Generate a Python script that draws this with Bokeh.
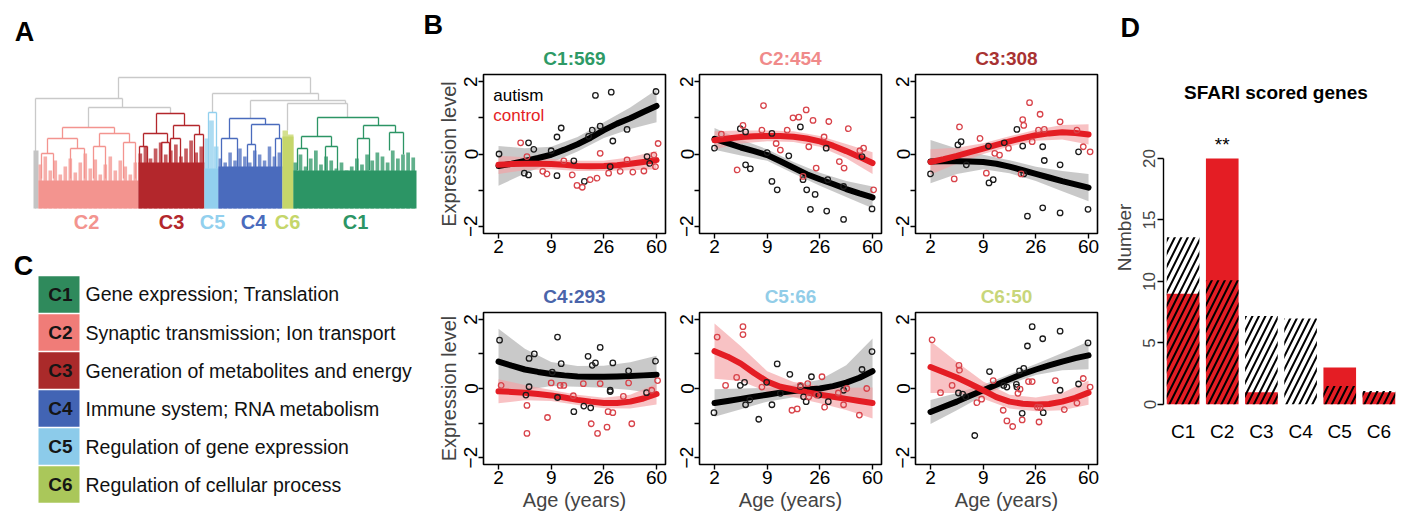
from bokeh.plotting import figure
from bokeh.layouts import row, column
from bokeh.models import Range1d, FactorRange, FixedTicker, Title
from bokeh.embed import file_html
from bokeh.resources import INLINE
from bokeh.core.properties import value

FONT = "Liberation Sans"

# ---------------------------------------------------------------- data
# Panel A : dendrogram (x = leaf position, h = merge height)
dendro_clusters = ["C2", "C3", "C5", "C4", "C6", "C1"]
dendro_span_start = [5, 105, 171, 185, 249, 260]
dendro_span_end = [105, 171, 185, 249, 260, 383]
dendro_label_x = [53, 138, 179, 220, 254, 322]
dendro_solid = [28, 46, 40, 42, 72, 38]
dendro_profiles = {
    "C2": [44, 52, 38, 48, 34, 42, 50, 36, 46, 55, 40, 49, 34, 44, 52, 38, 48, 42, 34, 46],
    "C3": [55, 62, 50, 60, 66, 54, 58, 64, 52, 60, 68, 56, 62],
    "C5": [70, 88, 62],
    "C4": [50, 46, 56, 48, 60, 52, 46, 58, 54, 48, 62, 52, 56],
    "C6": [78, 74],
    "C1": [46, 54, 42, 50, 58, 44, 52, 48, 40, 46, 38, 42, 50, 44, 54, 48, 56, 52, 46, 58, 50, 54, 56, 51],
}
# upper (unassigned) merges: (x_left, x_right, height, h_left_child, h_right_child)
upper_merges = [(85, 277, 131, 110, 115), (2, 89, 110, 0, 101), (55, 137, 101, 81, 95),
                (179, 285, 115, 96, 108), (217, 312, 108, 90, 105), (254, 314, 105, 78, 91)]
cluster_merges = {
    "C2": [(29, 81, 81, 70, 75), (14, 44, 70, 55, 60), (66, 96, 75, 62, 66), (8, 20, 55, 30, 30),
           (37, 51, 60, 30, 30), (60, 72, 62, 30, 30), (90, 102, 66, 30, 30)],
    "C3": [(123, 151, 95, 75, 83), (110, 134, 75, 62, 66), (140, 166, 83, 70, 74), (106, 114, 62, 45, 45),
           (128, 136, 66, 45, 45), (137, 147, 70, 45, 45), (161, 170, 74, 45, 45)],
    "C5": [(175, 183, 96, 40, 40)],
    "C4": [(196, 232, 90, 70, 84), (188, 204, 70, 40, 40), (218, 246, 84, 64, 70), (214, 222, 64, 40, 40),
           (242, 248, 70, 40, 40)],
    "C1": [(284, 345, 91, 72, 83), (268, 298, 72, 60, 62), (330, 362, 83, 70, 76), (264, 274, 60, 38, 38),
           (292, 304, 62, 38, 38), (324, 336, 70, 38, 38), (356, 370, 76, 58, 54)],
}
grey_leaf_span = (0, 5)
grey_leaf_height = 58

# cluster colours
ccol = {"C1": "#2c9565", "C2": "#f3948f", "C3": "#b3272c", "C4": "#4a6bbd", "C5": "#92d0ee", "C6": "#c5d66a"}
title_col = {"C1": "#2e9a66", "C2": "#f08a8a", "C3": "#a83232", "C4": "#4a64aa", "C5": "#92cde8", "C6": "#c8d67a"}

# Panel C : functional annotation
go_clusters = ["C1", "C2", "C3", "C4", "C5", "C6"]
go_terms = ["Gene expression; Translation", "Synaptic transmission; Ion transport",
            "Generation of metabolites and energy", "Immune system; RNA metabolism",
            "Regulation of gene expression", "Regulation of cellular process"]
go_box_colors = ["#2f8a5c", "#f07c78", "#aa2a2a", "#4264b4", "#8ccbea", "#aac75a"]

# Panel B : expression trajectories (x = ordered age position, ticks 2/9/26/60 years)
age_tick_pos = [0, 10, 20, 30]
age_tick_lab = ["2", "9", "26", "60"]
module_titles = ["C1:569", "C2:454", "C3:308", "C4:293", "C5:66", "C6:50"]

aut_x = {
    "C1": [0.1, 5.7, 6.7, 4.9, 5.7, 10.0, 11.1, 11.9, 11.1, 14.3, 16.3, 17.1, 17.8, 19.3, 18.4, 21.4, 21.7, 21.2, 24.4, 28.2, 28.7, 29.9],
    "C2": [0.0, 4.9, 5.9, 5.9, 6.8, 10.0, 10.9, 10.9, 11.9, 14.1, 16.3, 16.8, 17.5, 18.2, 19.1, 21.2, 21.5, 21.3, 24.5, 24.5, 28.0, 29.9],
    "C3": [0.0, 5.2, 5.8, 6.8, 11.0, 11.1, 11.9, 14.0, 16.4, 17.5, 17.7, 18.4, 21.3, 21.6, 21.3, 24.6, 24.6, 28.1, 29.9],
    "C4": [0.2, 5.8, 6.8, 5.8, 5.2, 11.2, 11.9, 10.2, 11.2, 14.3, 16.2, 17.0, 17.8, 18.4, 19.3, 17.5, 21.2, 21.2, 21.7, 24.7, 28.1, 29.8],
    "C5": [-0.1, 4.9, 5.7, 5.9, 6.7, 8.4, 9.9, 10.9, 11.9, 12.5, 14.3, 16.3, 16.9, 17.4, 18.4, 19.8, 21.6, 24.5, 28.0, 29.9],
    "C6": [5.3, 6.1, 6.7, 8.4, 11.2, 13.9, 14.5, 16.3, 16.4, 16.9, 17.7, 17.4, 18.4, 19.3, 21.3, 21.4, 24.6, 24.6, 28.1, 29.9],
}
aut_y = {
    "C1": [0.0, 0.31, 0.13, -0.53, -0.58, 0.09, 0.47, 0.72, -0.6, -0.19, -0.76, 0.49, 0.66, 0.77, 1.62, 1.71, 0.36, -0.35, 0.68, -0.07, -0.26, 1.73],
    "C2": [0.16, 0.7, 0.61, -0.3, -0.41, 0.04, 0.57, -0.76, -0.99, -0.05, 0.75, -0.71, -0.99, -1.53, -1.12, 0.16, -0.71, -1.58, -0.9, -1.81, -0.07, -1.52],
    "C3": [-0.55, 0.25, 0.34, -0.3, 0.22, -0.8, -0.71, 0.31, 0.68, 0.22, -0.55, -1.72, 0.2, -0.18, -1.49, -0.3, -1.63, 0.06, -1.53],
    "C4": [1.4, 0.87, 1.0, 0.05, -0.19, 1.49, 0.72, 0.47, -0.26, -0.67, -0.51, 0.93, 0.67, 0.74, 1.19, -0.56, -0.05, -0.09, 0.74, 0.51, -0.12, 0.79],
    "C5": [-0.7, 0.09, 0.18, -0.47, -0.33, -0.89, 0.18, -0.47, 0.71, -0.14, 0.41, 0.06, -0.24, -0.38, 0.34, -0.19, -0.38, -0.05, 0.55, 1.07],
    "C6": [-0.13, -0.16, -0.24, -1.36, 0.49, 0.09, 0.04, 0.12, 0.04, 0.51, 0.58, -0.72, 1.23, 1.79, 1.44, -0.7, 1.66, -0.05, 0.13, 1.32],
}
ctl_x = {
    "C1": [4.2, 5.4, 8.4, 9.2, 12.4, 14.0, 14.9, 15.9, 17.4, 18.7, 19.3, 20.9, 23.1, 24.4, 25.5, 27.6, 29.5, 30.3, 29.8],
    "C2": [1.3, 4.3, 5.4, 9.0, 9.3, 11.7, 12.5, 13.8, 14.9, 16.0, 17.4, 17.9, 18.7, 19.3, 21.7, 20.8, 23.7, 24.6, 25.4, 27.6, 28.3, 30.2, 16.8],
    "C3": [4.5, 5.5, 9.4, 10.6, 12.2, 13.1, 14.8, 17.2, 17.5, 17.7, 18.8, 19.3, 20.5, 20.8, 21.6, 24.6, 27.8, 29.0, 30.3],
    "C4": [0.5, 5.4, 5.4, 9.3, 10.0, 11.7, 12.4, 14.2, 16.1, 17.6, 18.8, 19.3, 20.6, 20.8, 21.7, 23.7, 24.7, 25.3, 29.1, 30.2],
    "C5": [0.5, 2.1, 4.2, 5.4, 5.4, 9.0, 14.7, 15.7, 16.3, 17.7, 17.9, 19.4, 20.4, 20.9, 23.5, 24.5, 25.1, 27.5, 28.9],
    "C6": [0.3, 1.9, 4.1, 5.4, 5.5, 8.8, 9.7, 11.9, 13.8, 14.5, 15.6, 16.6, 17.0, 17.4, 18.6, 19.3, 20.3, 20.6, 20.8, 23.7, 25.4, 27.8, 29.0, 30.3],
}
ctl_y = {
    "C1": [0.31, -0.07, -0.48, -0.55, -0.19, -0.58, -0.87, -0.92, -0.71, -0.67, 0.02, -0.53, -0.48, -0.16, -0.5, -0.47, -0.03, 0.29, -0.35],
    "C2": [0.55, -0.44, 0.79, 0.66, 1.34, 0.29, 0.11, 0.66, 1.0, 1.02, 1.22, 0.2, 0.93, -0.39, 0.9, 0.47, -0.21, -0.39, 0.7, 0.09, 0.16, -0.99, -0.62],
    "C3": [-0.69, 0.75, 0.43, -0.53, 0.02, -0.03, 0.16, -0.55, 0.95, 0.79, 1.42, 0.34, 0.66, 1.1, 0.68, 0.89, 0.66, 0.2, 0.06],
    "C4": [0.09, -0.49, -1.3, -0.84, 0.16, 0.09, 0.09, -0.21, 0.14, -1.02, -1.3, 0.14, -1.12, -0.67, -0.7, -0.23, 0.16, -1.02, -0.05, 0.23],
    "C5": [1.49, 0.09, 0.32, 1.79, 1.56, 0.04, -0.63, -0.59, 0.09, 0.14, -0.24, -0.19, 0.34, -0.54, -0.13, -0.47, 0.0, -0.77, 0.0],
    "C6": [1.41, -0.12, 0.09, 0.67, 0.53, -0.41, -0.31, 0.23, -0.63, -0.94, -1.1, -0.14, -0.02, -0.91, 0.2, 0.2, -0.54, -0.97, -0.55, 0.23, -0.61, -0.42, 0.29, 0.04],
}
# smoothed trends (read every 2.5 positions)
fit_x = [0, 2.5, 5, 7.5, 10, 12.5, 15, 17.5, 20, 22.5, 25, 27.5, 30]
aut_fit = {
    "C1": [-0.33, -0.27, -0.19, -0.11, -0.02, 0.12, 0.27, 0.45, 0.66, 0.84, 0.99, 1.16, 1.33],
    "C2": [0.42, 0.3, 0.18, 0.08, -0.03, -0.2, -0.38, -0.56, -0.7, -0.83, -0.97, -1.09, -1.2],
    "C3": [-0.21, -0.2, -0.2, -0.21, -0.22, -0.27, -0.35, -0.45, -0.55, -0.65, -0.75, -0.84, -0.93],
    "C4": [0.78, 0.66, 0.55, 0.48, 0.42, 0.38, 0.35, 0.34, 0.34, 0.35, 0.36, 0.38, 0.4],
    "C5": [-0.42, -0.36, -0.3, -0.24, -0.18, -0.12, -0.07, -0.03, 0.0, 0.07, 0.17, 0.31, 0.5],
    "C6": [-0.68, -0.53, -0.38, -0.21, -0.05, 0.11, 0.27, 0.42, 0.55, 0.67, 0.78, 0.88, 0.96],
}
ctl_fit = {
    "C1": [-0.3, -0.28, -0.27, -0.27, -0.28, -0.3, -0.33, -0.34, -0.33, -0.31, -0.27, -0.22, -0.17],
    "C2": [0.38, 0.43, 0.47, 0.49, 0.5, 0.5, 0.48, 0.43, 0.35, 0.23, 0.08, -0.08, -0.25],
    "C3": [-0.22, -0.14, -0.05, 0.05, 0.15, 0.25, 0.35, 0.44, 0.52, 0.57, 0.6, 0.58, 0.54],
    "C4": [-0.08, -0.1, -0.12, -0.16, -0.2, -0.26, -0.33, -0.38, -0.42, -0.42, -0.38, -0.29, -0.16],
    "C5": [1.08, 0.92, 0.72, 0.45, 0.2, 0.05, -0.03, -0.11, -0.18, -0.24, -0.3, -0.36, -0.42],
    "C6": [0.62, 0.47, 0.32, 0.14, -0.05, -0.25, -0.38, -0.44, -0.46, -0.45, -0.38, -0.27, -0.12],
}
# confidence band half-widths (read every 5 positions)
band_x = [0, 5, 10, 15, 20, 25, 30]
band_aut_center = {k: [v[i] for i in range(0, 13, 2)] for k, v in aut_fit.items()}
band_ctl_center = {k: [v[i] for i in range(0, 13, 2)] for k, v in ctl_fit.items()}
aut_halfwidth = {
    "C1": [0.55, 0.35, 0.22, 0.2, 0.22, 0.3, 0.45],
    "C2": [0.3, 0.22, 0.16, 0.16, 0.18, 0.22, 0.3],
    "C3": [0.6, 0.35, 0.2, 0.18, 0.2, 0.28, 0.38],
    "C4": [0.95, 0.6, 0.35, 0.3, 0.32, 0.4, 0.55],
    "C5": [0.4, 0.3, 0.2, 0.18, 0.25, 0.5, 0.95],
    "C6": [0.35, 0.25, 0.16, 0.14, 0.16, 0.25, 0.4],
}
ctl_halfwidth = {
    "C1": [0.25, 0.18, 0.14, 0.14, 0.14, 0.18, 0.25],
    "C2": [0.25, 0.18, 0.15, 0.15, 0.15, 0.2, 0.3],
    "C3": [0.35, 0.22, 0.15, 0.14, 0.15, 0.2, 0.28],
    "C4": [0.35, 0.22, 0.16, 0.15, 0.15, 0.2, 0.3],
    "C5": [0.8, 0.5, 0.3, 0.22, 0.25, 0.32, 0.45],
    "C6": [0.75, 0.45, 0.25, 0.2, 0.2, 0.25, 0.35],
}

# Panel D : SFARI genes
sfari_clusters = ["C1", "C2", "C3", "C4", "C5", "C6"]
sfari_observed = [9, 20, 1, 0, 3, 1]
sfari_expected = [13.6, 10.1, 7.2, 7.0, 1.5, 1.1]
sfari_signif = ["", "**", "", "", "", ""]
sfari_title = "SFARI scored genes"

RED = "#e41d24"
RED_BAND = "#f4a2a4"
GREY_BAND = "#bcbcbc"
RED_PT = "#d8434a"


def bare(p):
    p.axis.visible = False
    p.xgrid.visible = False
    p.ygrid.visible = False
    p.outline_line_color = None


def style_letter(t, text, offset, standoff):
    t.text = text
    t.align = "left"
    t.offset = offset
    t.standoff = standoff
    t.text_font = FONT
    t.text_font_size = "27px"
    t.text_font_style = "bold"
    t.text_color = "black"


def add_title(p, text, color, standoff, size="19px"):
    p.add_layout(Title(text=text, align="center", standoff=standoff, text_font=FONT,
                       text_font_size=size, text_font_style="bold", text_color=color), "above")


# ---------------------------------------------------------------- Panel A
pA = figure(width=420, height=240, x_range=Range1d(-33, 387), y_range=Range1d(-32, 208),
            min_border=0, toolbar_location=None, tools="", output_backend="svg")
bare(pA)
for (xl, xr, h, hl, hr) in upper_merges:
    pA.segment(x0=[xl, xl, xr], y0=[h, hl, hr], x1=[xr, xl, xr], y1=[h, h, h],
               line_color="#c9c9c9", line_width=1.3)
for c, ms in cluster_merges.items():
    for (xl, xr, h, hl, hr) in ms:
        pA.segment(x0=[xl, xl, xr], y0=[h, hl, hr], x1=[xr, xl, xr], y1=[h, h, h],
                   line_color=ccol[c], line_width=1.3)
pA.quad(left=[grey_leaf_span[0]], right=[grey_leaf_span[1]], bottom=[0], top=[grey_leaf_height],
        fill_color="#c4c4c4", line_color=None)
for c, s, e, solid in zip(dendro_clusters, dendro_span_start, dendro_span_end, dendro_solid):
    prof = dendro_profiles[c]
    n = len(prof)
    w = (e - s) / n
    lefts = [s + i * w for i in range(n)]
    rights = [s + (i + 1) * w - (1.4 if n > 3 else 0) for i in range(n)]
    pA.quad(left=lefts, right=rights, bottom=[0] * n, top=prof, fill_color=ccol[c],
            fill_alpha=0.75, line_color=None)
    pA.quad(left=[s], right=[e], bottom=[0], top=[solid], fill_color=ccol[c], line_color=None)
pA.text(x=dendro_label_x, y=[-13.5] * 6, text=dendro_clusters,
        text_color=[ccol[c] for c in dendro_clusters], text_font=value(FONT),
        text_font_style="bold", text_font_size="20px", text_align="center", text_baseline="middle")
pA.text(x=[-9], y=[177], text=["A"], text_font=value(FONT), text_font_style="bold",
        text_font_size="27px", text_align="center", text_baseline="middle", text_color="black")

# ---------------------------------------------------------------- Panel C
pC = figure(width=420, height=273, x_range=Range1d(0, 420), y_range=Range1d(5.76, -1.42),
            min_border=0, toolbar_location=None, tools="", output_backend="svg")
bare(pC)
idx = list(range(len(go_clusters)))
pC.rect(x=[58.5] * 6, y=idx, width=41, height=0.96, fill_color=go_box_colors, line_color=None)
pC.text(x=[60] * 6, y=idx, text=go_clusters, text_font=value(FONT), text_font_style="bold",
        text_font_size="19px", text_align="center", text_baseline="middle", text_color="#151515")
pC.text(x=[85] * 6, y=idx, text=go_terms, text_font=value(FONT), text_font_size="19.5px",
        text_align="left", text_baseline="middle", text_color="#111111")
pC.text(x=[23], y=[-0.76], text=["C"], text_font=value(FONT), text_font_style="bold",
        text_font_size="27px", text_align="center", text_baseline="middle", text_color="black")


# ---------------------------------------------------------------- Panel B
def panel(key, title, width, bl, br, height, bt, bb, ylab, xlab):
    p = figure(width=width, height=height, min_border_left=bl, min_border_right=br,
               min_border_top=bt, min_border_bottom=bb,
               x_range=Range1d(-2.85, 31.7), y_range=Range1d(-2.2, 2.2),
               toolbar_location=None, tools="", output_backend="svg")
    add_title(p, title, title_col[key], 12)
    p.xgrid.visible = False
    p.ygrid.visible = False
    p.outline_line_color = "black"
    p.outline_line_width = 1.6
    p.outline_line_alpha = 1.0

    lo_a = [f - h for f, h in zip(band_aut_center[key], aut_halfwidth[key])]
    hi_a = [f + h for f, h in zip(band_aut_center[key], aut_halfwidth[key])]
    lo_c = [f - h for f, h in zip(band_ctl_center[key], ctl_halfwidth[key])]
    hi_c = [f + h for f, h in zip(band_ctl_center[key], ctl_halfwidth[key])]
    p.varea(x=band_x, y1=lo_a, y2=hi_a, fill_color=GREY_BAND, fill_alpha=0.8)
    p.varea(x=band_x, y1=lo_c, y2=hi_c, fill_color=RED_BAND, fill_alpha=0.65)
    p.line(x=fit_x, y=aut_fit[key], line_color="black", line_width=6, line_cap="round", line_join="round")
    p.line(x=fit_x, y=ctl_fit[key], line_color=RED, line_width=6, line_cap="round", line_join="round")
    p.scatter(x=aut_x[key], y=aut_y[key], size=5.5, fill_color=None, line_color="#1c1c1c", line_width=1.3)
    p.scatter(x=ctl_x[key], y=ctl_y[key], size=5.5, fill_color=None, line_color=RED_PT, line_width=1.3)

    for ax in (p.xaxis[0], p.yaxis[0]):
        ax.axis_line_color = None
        ax.major_tick_line_color = "black"
        ax.major_tick_line_width = 1.4
        ax.major_tick_out = 5
        ax.major_tick_in = 0
        ax.minor_tick_line_color = "black"
        ax.minor_tick_line_width = 1.4
        ax.minor_tick_out = 5
        ax.minor_tick_in = 0
        ax.major_label_text_font = FONT
        ax.major_label_text_font_size = "19px"
        ax.major_label_text_color = "black"
        ax.major_label_standoff = 1
        ax.axis_label_text_font = FONT
        ax.axis_label_text_font_size = "20px"
        ax.axis_label_text_font_style = "normal"
        ax.axis_label_standoff = 2
    p.xaxis.ticker = FixedTicker(ticks=age_tick_pos, minor_ticks=[])
    p.xaxis.major_label_overrides = {t: l for t, l in zip(age_tick_pos, age_tick_lab)}
    p.yaxis.ticker = FixedTicker(ticks=[-2, 0, 2], minor_ticks=[-1, 1])
    p.yaxis.major_label_overrides = {-2: "\u22122", 0: "0", 2: "2"}
    p.yaxis.major_label_orientation = "vertical"
    if ylab:
        p.yaxis.axis_label = "Expression level"
    if xlab:
        p.xaxis.axis_label = "Age (years)"
    return p


f = {}
specs = [("C1", 255, 63, 10), ("C2", 216, 24, 10), ("C3", 216, 24, 10),
         ("C4", 255, 63, 10), ("C5", 216, 24, 10), ("C6", 216, 24, 10)]
for i, ((key, w, bl, br), t) in enumerate(zip(specs, module_titles)):
    top = i < 3
    f[key] = panel(key, t, w, bl, br,
                   262 if top else 251, 74 if top else 50, 29 if top else 41,
                   ylab=(key in ("C1", "C4")), xlab=not top)

# legend in C1 panel
legend_text = ["autism", "control"]
legend_col = ["black", RED]
f["C1"].text(x=[-1.0, -1.0], y=[1.62, 1.07], text=legend_text, text_color=legend_col,
             text_font=value(FONT), text_font_size="17px", text_align="left", text_baseline="middle")
style_letter(f["C1"].title, "B", -60, 0)

# ---------------------------------------------------------------- Panel D
# frame: page y 70 .. 404 (value 0), 12.3 px per gene
pD = figure(width=293, height=513, x_range=FactorRange(factors=sfari_clusters, range_padding=0),
            y_range=Range1d(0, 27.15), min_border_left=56, min_border_right=2,
            min_border_top=70, min_border_bottom=109,
            toolbar_location=None, tools="", output_backend="svg")
add_title(pD, " ", "white", 25, size="1px")   # spacer between frame and panel letter
style_letter(pD.title, "D", -43, 0)
pD.xgrid.visible = False
pD.ygrid.visible = False
pD.outline_line_color = None
pD.vbar(x=sfari_clusters, top=sfari_observed, width=1 / 1.2, fill_color=RED, line_color=None)
pD.vbar(x=sfari_clusters, top=sfari_expected, width=1 / 1.2, fill_color=None, line_color=None,
        hatch_pattern="/", hatch_color="black", hatch_weight=2.0, hatch_scale=13)
pD.text(x=sfari_clusters, y=[o + 0.3 for o in sfari_observed], text=sfari_signif,
        text_font=value(FONT), text_font_size="19px", text_align="center", text_baseline="bottom",
        text_color="black")
pD.text(x=[2.87], y=[25.35], text=[sfari_title], text_font=value(FONT), text_font_size="19px",
        text_font_style="bold", text_align="center", text_baseline="middle", text_color="black")
pD.xaxis.axis_line_color = None
pD.xaxis.major_tick_line_color = None
pD.xaxis.major_label_standoff = 10
pD.xaxis.major_label_text_font = FONT
pD.xaxis.major_label_text_font_size = "19px"
pD.xaxis.major_label_text_color = "black"
pD.yaxis.ticker = FixedTicker(ticks=[0, 5, 10, 15, 20], minor_ticks=[])
pD.yaxis.bounds = (0, 20)
pD.yaxis.axis_line_color = "black"
pD.yaxis.axis_line_width = 1.4
pD.yaxis.major_tick_line_width = 1.4
pD.yaxis.major_tick_out = 6
pD.yaxis.major_tick_in = 0
pD.yaxis.major_label_orientation = "vertical"
pD.yaxis.major_label_text_font = FONT
pD.yaxis.major_label_text_font_size = "17px"
pD.yaxis.major_label_standoff = 2
pD.yaxis.axis_label = "Number"
pD.yaxis.axis_label_text_font = FONT
pD.yaxis.axis_label_text_font_size = "19px"
pD.yaxis.axis_label_text_font_style = "normal"
pD.yaxis.axis_label_standoff = 6

layout = row(column(pA, pC),
             column(row(f["C1"], f["C2"], f["C3"]), row(f["C4"], f["C5"], f["C6"])),
             pD)

open("out.html", "w").write(file_html(layout, INLINE))
